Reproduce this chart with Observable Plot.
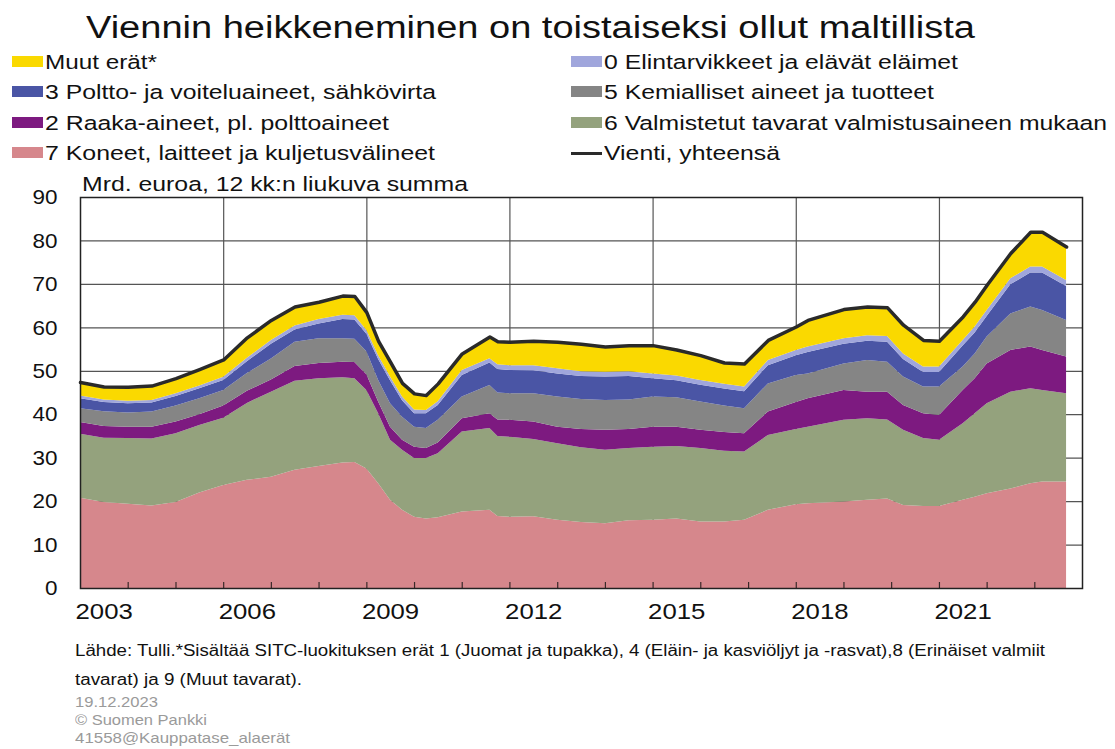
<!DOCTYPE html>
<html><head><meta charset="utf-8">
<script src="https://cdn.jsdelivr.net/npm/d3@7"></script>
<script src="https://cdn.jsdelivr.net/npm/@observablehq/plot@0.6"></script>
<style>
body{margin:0;background:#fff;font-family:"Liberation Sans",Arial,sans-serif;}
#wrap{position:relative;width:1115px;height:749px;overflow:hidden;background:#fff}
.t{position:absolute;white-space:nowrap;line-height:1.2;transform-origin:0 50%;color:#111}
.sw{position:absolute;}
#chart{position:absolute;left:0;top:172px}
</style></head><body><div id="wrap"><div id="chart"></div></div><script>
// ---- data (Mrd. euroa, 12 kk:n liukuva summa) ----
const dates = ["2003-01","2003-07","2004-01","2004-07","2005-01","2005-07","2006-01","2006-07","2007-01","2007-07",
"2008-01","2008-07","2008-10","2009-01","2009-04","2009-07","2009-10","2010-01","2010-04","2010-07",
"2011-01","2011-08","2011-10","2012-01","2012-07","2013-01","2013-07","2014-01","2014-07","2015-01",
"2015-07","2016-01","2016-07","2016-12","2017-06","2018-01","2018-04","2019-01","2019-07","2019-12",
"2020-04","2020-09","2021-01","2021-07","2021-10","2022-01","2022-07","2022-12","2023-03","2023-09"];
const koneet = [20.8,19.8,19.4,19.0,19.8,22.0,23.7,24.9,25.6,27.2,
28.1,28.9,29.0,27.5,24.1,20.3,18.0,16.4,16.0,16.3,
17.6,18.0,16.6,16.4,16.5,15.7,15.2,14.9,15.6,15.7,
16.0,15.3,15.3,15.7,18.0,19.3,19.5,19.9,20.3,20.6,
19.1,18.9,18.9,20.3,21.0,21.8,22.9,24.1,24.5,24.5];
const valmistetut = [14.7,14.8,15.1,15.4,15.8,15.5,15.5,17.7,19.6,20.5,
20.2,19.6,19.3,18.1,16.1,13.8,13.8,13.5,13.9,14.7,
18.4,18.8,18.4,18.4,17.8,17.6,17.2,16.9,16.6,16.8,
16.7,16.9,16.3,15.7,17.2,17.3,17.6,18.8,18.8,18.2,
17.3,15.6,15.2,17.6,19.2,20.7,22.3,21.9,21.1,20.3];
const raaka = [2.7,2.7,2.6,2.7,2.7,2.5,2.8,2.8,2.8,3.4,
3.5,3.6,3.7,3.6,2.7,3.0,2.3,2.6,2.3,2.5,
3.1,3.4,3.8,3.9,4.0,3.8,4.2,4.6,4.4,4.6,
4.4,4.2,4.3,4.2,5.4,6.2,6.6,6.9,6.1,6.4,
5.7,5.7,5.7,7.7,8.1,9.2,9.6,9.6,9.2,8.5];
const kemialliset = [3.2,3.4,3.3,3.5,3.7,3.7,3.6,4.1,4.8,5.6,
5.7,5.4,5.4,5.3,5.0,5.4,5.3,4.6,4.6,5.2,
5.0,6.5,6.2,6.1,6.5,7.0,6.9,6.9,6.8,7.0,
6.8,6.5,6.1,5.8,6.5,6.2,5.7,6.1,7.3,6.9,
6.6,6.2,6.6,5.4,5.7,6.2,8.4,9.2,9.2,8.4];
const poltto = [2.3,2.1,2.1,2.1,2.2,2.3,2.3,2.7,3.4,2.8,
3.4,4.4,4.4,4.0,4.8,5.3,3.8,3.1,3.4,3.4,
4.9,5.2,5.4,5.4,5.3,5.3,5.3,5.4,5.4,4.2,
3.9,3.9,3.9,3.9,4.2,4.6,4.9,4.5,4.4,4.6,
4.0,3.3,3.3,4.8,4.8,4.7,6.7,7.8,8.6,7.8];
const elintarvikkeet = [0.6,0.6,0.6,0.6,0.6,0.6,0.7,0.8,0.9,0.9,
1.0,1.0,1.0,0.9,0.9,0.9,0.9,0.9,0.8,0.9,
1.2,1.0,1.1,1.1,1.2,1.2,1.1,1.1,1.1,1.1,
1.1,1.1,1.1,1.1,1.2,1.2,1.3,1.3,1.3,1.3,
1.3,1.3,1.3,1.3,1.4,1.4,1.4,1.4,1.4,1.4];
const muut = [3.1,3.0,3.2,3.3,3.5,3.8,4.0,4.7,4.6,4.4,
4.0,4.4,4.4,4.1,3.3,3.4,3.1,3.7,3.4,4.1,
3.8,5.0,5.3,5.4,5.6,6.1,6.3,5.8,6.0,6.5,
6.0,5.7,4.9,5.3,4.6,5.4,6.1,6.7,6.6,6.6,
6.6,6.1,5.9,5.4,5.7,5.8,5.8,8.0,8.0,7.7];

const seriesNames = ["7 Koneet, laitteet ja kuljetusvälineet","6 Valmistetut tavarat valmistusaineen mukaan",
"2 Raaka-aineet, pl. polttoaineet","5 Kemialliset aineet ja tuotteet","3 Poltto- ja voiteluaineet, sähkövirta",
"0 Elintarvikkeet ja elävät eläimet","Muut erät*"];
const seriesColors = ["#d6878c","#94a27d","#7d1a80","#858585","#4a55a5","#a0a6dc","#fad900"];
const totalName = "Vienti, yhteensä";
const yTicks = [0,10,20,30,40,50,60,70,80,90];
const labelYears = [2003,2006,2009,2012,2015,2018,2021];
const titleText = "Viennin heikkeneminen on toistaiseksi ollut maltillista";
const subtitleText = "Mrd. euroa, 12 kk:n liukuva summa";
const footLines = ["Lähde: Tulli.*Sisältää SITC-luokituksen erät 1 (Juomat ja tupakka), 4 (Eläin- ja kasviöljyt ja -rasvat),8 (Erinäiset valmiit",
"tavarat) ja 9 (Muut tavarat)."];
const grayLines = ["19.12.2023","© Suomen Pankki","41558@Kauppatase_alaerät"];

// ---- build ----
const parse = d3.utcParse("%Y-%m");
const seriesValues = [koneet, valmistetut, raaka, kemialliset, poltto, elintarvikkeet, muut];
const long = dates.flatMap((d,i)=>seriesNames.map((s,j)=>({date:parse(d), series:s, value:seriesValues[j][i]})));
const totals = dates.map((d,i)=>({date:parse(d), total:d3.sum(seriesValues, v=>v[i])}));
const gridDates = labelYears.slice(1).map(y=>new Date(Date.UTC(y,0,1)));
const minorDates = d3.range(2004,2024).map(y=>new Date(Date.UTC(y,0,1)));
const labelDates = labelYears.map(y=>new Date(Date.UTC(y,6,1)));

const wrap = document.getElementById("wrap");
function addText(txt, left, centerY, size, targetW, color){
  const el = document.createElement("div");
  el.className = "t"; el.textContent = txt;
  el.style.left = left+"px"; el.style.fontSize = size+"px";
  el.style.top = (centerY - 0.59*size)+"px";
  if(color) el.style.color = color;
  wrap.appendChild(el);
  const w = el.getBoundingClientRect().width;
  if(targetW && w>0) el.style.transform = `scaleX(${targetW/w})`;
  return el;
}
addText(titleText, 86, 27.5, 31, 889);

const legendItems = [
  {name:seriesNames[6], col:0,row:0,end:157},
  {name:seriesNames[4], col:0,row:1,end:436},
  {name:seriesNames[2], col:0,row:2,end:389},
  {name:seriesNames[0], col:0,row:3,end:435},
  {name:seriesNames[5], col:1,row:0,end:958},
  {name:seriesNames[3], col:1,row:1,end:934},
  {name:seriesNames[1], col:1,row:2,end:1107},
  {name:totalName, col:1,row:3,end:780, line:true}
];
const colX = [{sw:12,text:45},{sw:571,text:604}];
const rowY = [62,92.5,123,153];
legendItems.forEach(it=>{
  const cy = rowY[it.row], c = colX[it.col];
  const sw = document.createElement("div");
  sw.className="sw";
  sw.style.left=c.sw+"px"; sw.style.width="31px";
  if(it.line){ sw.style.top=(cy-1.5)+"px"; sw.style.height="3.5px"; sw.style.background="#2a2a2a"; }
  else { sw.style.top=(cy-6.5)+"px"; sw.style.height="11px"; sw.style.background=seriesColors[seriesNames.indexOf(it.name)]; }
  wrap.appendChild(sw);
  addText(it.name, c.text, cy, 20.5, it.end - c.text);
});
addText(subtitleText, 82, 184, 20.5, 386);

const chart = Plot.plot({
  width:1115, height:460, marginTop:25, marginBottom:44, marginLeft:80, marginRight:33,
  style:{fontFamily:'"Liberation Sans", Arial, sans-serif', fontSize:"21px", color:"#111", background:"transparent"},
  x:{type:"utc", domain:[new Date(Date.UTC(2003,0,1)), new Date(Date.UTC(2024,0,1))]},
  y:{domain:[0,90]},
  color:{domain:seriesNames, range:seriesColors},
  marks:[
    Plot.ruleY(yTicks.filter(v=>v>0), {stroke:"#555", strokeWidth:1.2}),
    Plot.ruleX(gridDates, {stroke:"#555", strokeWidth:1.2}),
    Plot.areaY(long, {x:"date", y:"value", fill:"series", order:seriesNames}),
    Plot.lineY(totals, {x:"date", y:"total", stroke:"#2a2a2a", strokeWidth:3.5, strokeLinejoin:"round"}),
    Plot.ruleX(minorDates, {stroke:"#3a2a2a", strokeWidth:1.2, insetTop:385}),
    Plot.frame({stroke:"#222", strokeWidth:1.5}),
    Plot.axisY({ticks:yTicks, tickSize:0, tickPadding:23, label:null, fontSize:21}),
    Plot.axisX({ticks:labelDates, tickSize:0, tickPadding:15, tickFormat:d3.utcFormat("%Y"), label:null, fontSize:22})
  ]
});
document.getElementById("chart").appendChild(chart);
chart.querySelectorAll('g[aria-label="x-axis tick label"] text').forEach(t=>{
  const w=t.getComputedTextLength(); t.setAttribute("textLength", w*1.17); t.setAttribute("lengthAdjust","spacingAndGlyphs");
});
chart.querySelectorAll('g[aria-label="y-axis tick label"] text').forEach(t=>{
  const w=t.getComputedTextLength(); t.setAttribute("textLength", w*1.07); t.setAttribute("lengthAdjust","spacingAndGlyphs");
});

addText(footLines[0], 75, 650, 16, 970);
addText(footLines[1], 75, 679, 16, 227);
addText(grayLines[0], 75, 702, 15, 83, "#9a9a9a");
addText(grayLines[1], 75, 720, 15, 132, "#9a9a9a");
addText(grayLines[2], 75, 738, 15, 215, "#9a9a9a");
</script></body></html>
